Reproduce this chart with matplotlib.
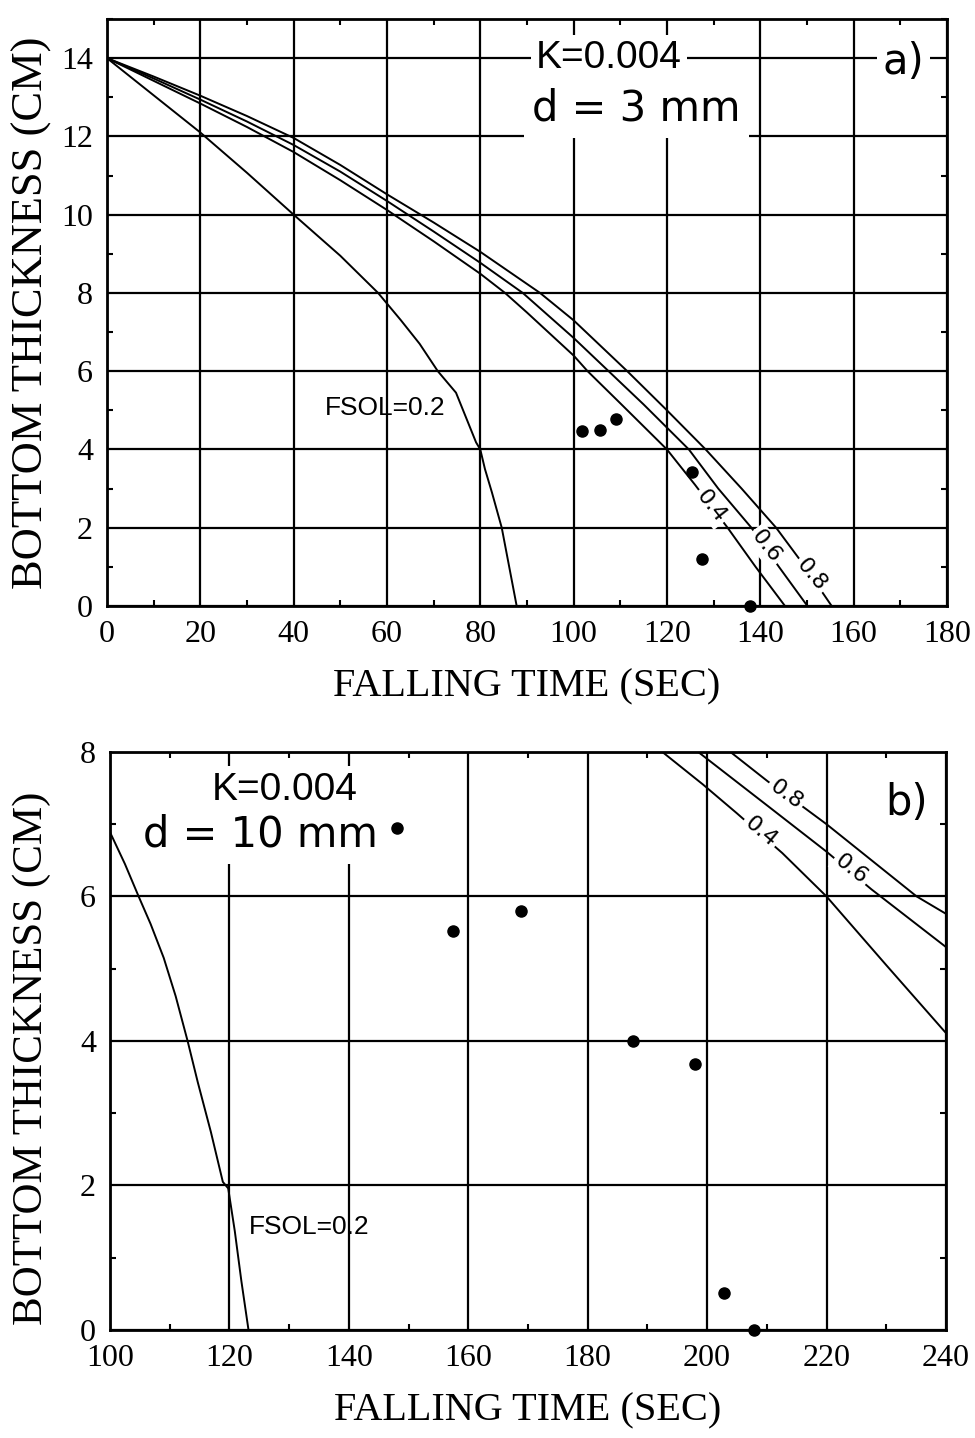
import matplotlib
matplotlib.use("Agg")
import matplotlib.pyplot as plt
from matplotlib.ticker import MultipleLocator

# ---- panel a) d = 3 mm ----
a_fsol02_t = [0, 10, 20, 30, 40, 50, 58.1, 63, 67, 70.9, 74.8, 79.1, 80, 81, 82.5, 84.6, 86.2, 87.8]
a_fsol02_h = [14, 13.05, 12.1, 11.07, 10.0, 8.95, 8.0, 7.3, 6.7, 6.0, 5.45, 4.18, 4.0, 3.5, 2.9, 2.0, 1.0, 0]
a_fsol04_t = [0, 10, 20, 30, 40, 50, 60, 70, 80, 85.3, 90, 100, 103, 110, 120, 126, 133, 139, 145.3]
a_fsol04_h = [14, 13.42, 12.84, 12.24, 11.6, 10.88, 10.12, 9.32, 8.49, 8.0, 7.5, 6.4, 6.0, 5.18, 4.0, 3.1, 2.0, 1.0, 0]
a_fsol06_t = [0, 10, 20, 30, 40, 50, 60, 70, 80, 89.1, 100, 107.5, 115, 124.7, 131, 138.1, 144, 150.1]
a_fsol06_h = [14, 13.48, 12.94, 12.38, 11.78, 11.1, 10.35, 9.57, 8.77, 8.0, 6.85, 6.0, 5.15, 4.0, 3.0, 2.0, 1.0, 0]
a_fsol08_t = [0, 10, 20, 30, 40, 50, 60, 70, 80, 92.8, 100, 111.5, 120, 128.3, 136, 143.4, 149, 155.3]
a_fsol08_h = [14, 13.53, 13.04, 12.52, 11.96, 11.27, 10.52, 9.8, 9.05, 8.0, 7.3, 6.0, 5.0, 4.0, 3.0, 2.0, 1.1, 0]
a_meas_t = [101.9, 105.6, 109.0, 125.3, 127.6, 137.7]
a_meas_h = [4.47, 4.49, 4.78, 3.43, 1.19, 0.0]

# ---- panel b) d = 10 mm ----
b_fsol02_t = [100, 102.5, 104.8, 106.8, 109.0, 111.0, 113.0, 114.7, 116.9, 118.9, 119.8, 120.9, 122.0, 123.2]
b_fsol02_h = [6.89, 6.45, 6.0, 5.62, 5.15, 4.62, 4.0, 3.43, 2.74, 2.05, 1.96, 1.37, 0.68, 0]
b_fsol04_t = [192.5, 199.3, 205, 212.6, 220, 230, 240]
b_fsol04_h = [8.0, 7.55, 7.15, 6.6, 6.0, 5.05, 4.11]
b_fsol06_t = [198.5, 210.2, 220, 227.5, 240]
b_fsol06_h = [8.0, 7.25, 6.62, 6.1, 5.3]
b_fsol08_t = [203.9, 210.2, 216.4, 220, 235.1, 240]
b_fsol08_h = [8.0, 7.59, 7.22, 7.0, 6.0, 5.76]
b_meas_t = [148.0, 157.4, 168.9, 187.6, 198.0, 202.8, 207.8]
b_meas_h = [6.95, 5.52, 5.80, 4.0, 3.68, 0.51, 0.0]

serif = ['Liberation Serif', 'DejaVu Serif']
narrow = ['Liberation Sans Narrow', 'Liberation Sans', 'DejaVu Sans']
white = dict(facecolor='white', edgecolor='none', pad=2)

fig = plt.figure(figsize=(9.75, 14.38), dpi=100)
ax1 = fig.add_axes([0.1097, 0.5786, 0.8615, 0.4082])
ax2 = fig.add_axes([0.1128, 0.0751, 0.8574, 0.4020])


def style(ax, xmin, xmax, ymax, ylab_size, ylab_x, ylab_y):
    ax.set_xlim(xmin, xmax)
    ax.set_ylim(0, ymax)
    ax.xaxis.set_major_locator(MultipleLocator(20))
    ax.yaxis.set_major_locator(MultipleLocator(2))
    ax.xaxis.set_minor_locator(MultipleLocator(10))
    ax.yaxis.set_minor_locator(MultipleLocator(1))
    ax.grid(True, which='major', color='black', lw=1.6)
    ax.set_axisbelow(True)
    ax.tick_params(which='major', length=0, pad=10)
    ax.tick_params(which='minor', direction='in', length=4, width=1.5,
                   top=True, right=True)
    for s in ax.spines.values():
        s.set_linewidth(2)
    for lab in ax.get_xticklabels() + ax.get_yticklabels():
        lab.set_family(serif)
        lab.set_fontsize(23)
    ax.set_xlabel('FALLING TIME (SEC)', family=serif, fontsize=29, labelpad=14)
    ax.set_ylabel('BOTTOM THICKNESS (CM)', family=serif, fontsize=ylab_size)
    ax.yaxis.set_label_coords(ylab_x, ylab_y)


style(ax1, 0, 180, 15, 32, -0.066, 0.5)
ax1.set_yticks([0, 2, 4, 6, 8, 10, 12, 14])

for t, h in [(a_fsol02_t, a_fsol02_h), (a_fsol04_t, a_fsol04_h),
             (a_fsol06_t, a_fsol06_h), (a_fsol08_t, a_fsol08_h)]:
    ax1.plot(t, h, color='black', lw=1.4, zorder=3)
ax1.plot(a_meas_t, a_meas_h, 'o', color='black', ms=8, zorder=4, clip_on=False)

ax1.text(59.6, 5.06, 'FSOL=0.2', family=narrow, fontsize=19, ha='center', va='center', zorder=5)
ax1.text(129.5, 2.55, '0.4', fontsize=16, rotation=-52, rotation_mode='anchor',
         ha='center', va='center', bbox=white, zorder=5)
ax1.text(141.3, 1.53, '0.6', fontsize=16, rotation=-52, rotation_mode='anchor',
         ha='center', va='center', bbox=white, zorder=5)
ax1.text(151.0, 0.8, '0.8', fontsize=16, rotation=-50, rotation_mode='anchor',
         ha='center', va='center', bbox=white, zorder=5)
ax1.text(107.6, 14.0, 'K=0.004', family=narrow, fontsize=28, ha='center', va='center',
         bbox=dict(facecolor='white', edgecolor='none', pad=4), zorder=5)
ax1.text(113.5, 12.72, 'd = 3 mm', fontsize=30, ha='center', va='center',
         bbox=dict(facecolor='white', edgecolor='none', pad=6), zorder=5)
ax1.text(170.7, 13.9, 'a)', fontsize=30, ha='center', va='center',
         bbox=dict(facecolor='white', edgecolor='none', pad=4), zorder=5)

style(ax2, 100, 240, 8, 31, -0.070, 0.47)

for t, h in [(b_fsol02_t, b_fsol02_h), (b_fsol04_t, b_fsol04_h),
             (b_fsol06_t, b_fsol06_h), (b_fsol08_t, b_fsol08_h)]:
    ax2.plot(t, h, color='black', lw=1.4, zorder=3)
ax2.plot(b_meas_t, b_meas_h, 'o', color='black', ms=8, zorder=4, clip_on=False)

ax2.text(133.3, 1.42, 'FSOL=0.2', family=narrow, fontsize=19, ha='center', va='center', zorder=5)
ax2.text(209.0, 6.9, '0.4', fontsize=16, rotation=-40, rotation_mode='anchor',
         ha='center', va='center', bbox=white, zorder=5)
ax2.text(224.2, 6.38, '0.6', fontsize=16, rotation=-38, rotation_mode='anchor',
         ha='center', va='center', bbox=white, zorder=5)
ax2.text(213.2, 7.41, '0.8', fontsize=16, rotation=-36, rotation_mode='anchor',
         ha='center', va='center', bbox=white, zorder=5)
ax2.text(129.3, 7.48, 'K=0.004', family=narrow, fontsize=28, ha='center', va='center',
         bbox=dict(facecolor='white', edgecolor='none', pad=4), zorder=5)
ax2.text(125.2, 6.86, 'd = 10 mm', fontsize=30, ha='center', va='center',
         bbox=dict(facecolor='white', edgecolor='none', pad=6), zorder=5)
ax2.text(233.4, 7.29, 'b)', fontsize=30, ha='center', va='center', zorder=5)

fig.savefig('out.png', dpi=100, facecolor='white')
